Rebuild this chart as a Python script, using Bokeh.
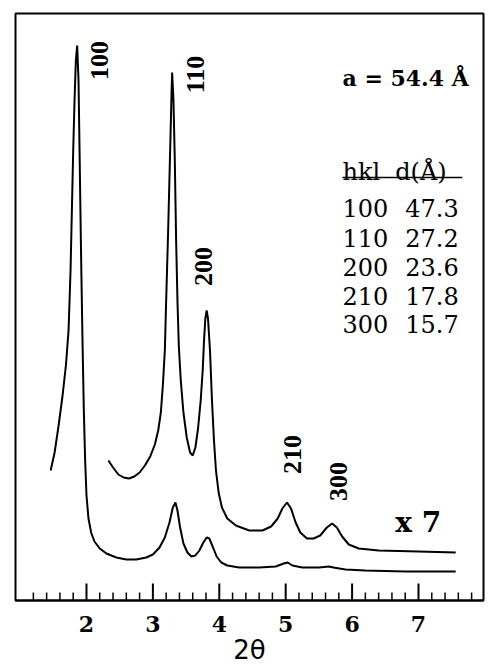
import math
from bokeh.plotting import figure
from bokeh.models import Range1d, FixedTicker
from bokeh.core.properties import value
from bokeh.embed import file_html
from bokeh.resources import INLINE

# ---- data (2theta in degrees, intensity in arbitrary units) ----
two_theta_x1 = [1.46, 1.52, 1.58, 1.64, 1.69, 1.73, 1.76, 1.78, 1.80, 1.82, 1.84, 1.86, 1.88, 1.90,
                1.92, 1.94, 1.96, 1.98, 2.00, 2.03, 2.07, 2.12, 2.20, 2.30, 2.45, 2.60, 2.75, 2.90,
                3.00, 3.10, 3.18, 3.25, 3.30, 3.34, 3.37, 3.41, 3.46, 3.52, 3.58, 3.64, 3.70, 3.76,
                3.81, 3.85, 3.90, 3.96, 4.03, 4.12, 4.30, 4.60, 4.85, 4.97, 5.03, 5.10, 5.25, 5.50,
                5.65, 5.72, 5.90, 6.20, 6.80, 7.56]
intensity_x1 = [130, 148, 175, 205, 235, 270, 330, 390, 450, 500, 540, 555, 520, 430,
                340, 260, 190, 140, 105, 82, 68, 59, 52, 47, 43, 41, 41, 43,
                46, 53, 63, 78, 93, 98, 90, 73, 57, 48, 44, 45, 50, 58,
                63, 62, 54, 44, 38, 35, 33, 33, 34, 37, 38, 35, 33, 33,
                34, 33, 31, 30, 29, 29]

two_theta_x7 = [2.33, 2.40, 2.48, 2.56, 2.64, 2.72, 2.80, 2.88, 2.96, 3.03, 3.08, 3.12, 3.15, 3.18,
                3.20, 3.23, 3.26, 3.28, 3.29, 3.31, 3.33, 3.35, 3.37, 3.39, 3.42, 3.46, 3.51, 3.56,
                3.60, 3.64, 3.68, 3.72, 3.75, 3.77, 3.79, 3.81, 3.83, 3.86, 3.89, 3.92, 3.95, 3.99,
                4.04, 4.12, 4.25, 4.45, 4.65, 4.78, 4.88, 4.95, 5.02, 5.08, 5.15, 5.22, 5.32, 5.42,
                5.52, 5.62, 5.70, 5.77, 5.85, 5.95, 6.10, 6.40, 7.00, 7.56]
intensity_x7 = [140, 133, 126, 123, 122, 124, 128, 135, 144, 156, 170, 188, 215, 250,
                300, 370, 450, 505, 528, 500, 440, 360, 300, 255, 220, 188, 163, 148,
                145, 153, 172, 200, 230, 260, 282, 290, 282, 250, 200, 160, 130, 108,
                93, 82, 75, 70, 70, 74, 82, 92, 98, 92, 78, 68, 62, 62,
                65, 73, 77, 73, 64, 56, 52, 50, 49, 48]

peak_labels = ["100", "110", "200", "210", "300"]
hkl = ["100", "110", "200", "210", "300"]
d_spacing = ["47.3", "27.2", "23.6", "17.8", "15.7"]
lattice_text = "a = 54.4 Å"
scale_text = "x 7"
major_ticks = [2, 3, 4, 5, 6, 7]
minor_ticks = [1.2, 1.4, 1.6, 1.8, 2.2, 2.4, 2.6, 2.8, 3.2, 3.4, 3.6, 3.8, 4.2, 4.4, 4.6, 4.8,
               5.2, 5.4, 5.6, 5.8, 6.2, 6.4, 6.6, 6.8, 7.2, 7.4, 7.6, 7.8]

# ---- annotation layout (data coordinates) ----
label_x = [2.20, 3.64, 3.76, 5.10, 5.80]
label_y = [540, 526, 334, 146, 119]
table_x1, table_x2 = 5.855, 6.80
table_row_y = [393, 363, 334, 305, 277]

p = figure(frame_width=468, frame_height=587, x_range=Range1d(0.931, 7.979), y_range=Range1d(0, 587),
           output_backend="svg", toolbar_location=None, y_axis_location=None,
           min_border_left=15, min_border_right=7, min_border_top=13, min_border_bottom=71)
p.grid.visible = False
p.outline_line_color = "black"
p.outline_line_width = 2
p.background_fill_color = "white"
p.border_fill_color = "white"

ax = p.xaxis[0]
ax.ticker = FixedTicker(ticks=major_ticks, minor_ticks=minor_ticks)
ax.axis_line_width = 2
ax.axis_line_color = "black"
ax.major_tick_in = 0
ax.major_tick_out = 0
ax.minor_tick_in = 0
ax.minor_tick_out = 0
ax.major_label_text_font = "DejaVu Serif"
ax.major_label_text_font_style = "bold"
ax.major_label_text_font_size = "22px"
ax.major_label_text_color = "black"
ax.major_label_standoff = 15
ax.axis_label = "2θ"
ax.axis_label_text_font = "DejaVu Sans"
ax.axis_label_text_font_style = "normal"
ax.axis_label_text_font_size = "26px"
ax.axis_label_text_color = "black"
ax.axis_label_standoff = 0

# inward-pointing ticks on the bottom axis
p.segment(x0=major_ticks, y0=[0] * len(major_ticks), x1=major_ticks, y1=[17] * len(major_ticks),
          line_color="black", line_width=2)
p.segment(x0=minor_ticks, y0=[0] * len(minor_ticks), x1=minor_ticks, y1=[8] * len(minor_ticks),
          line_color="black", line_width=1.5)

p.line(two_theta_x1, intensity_x1, line_color="black", line_width=2)
p.line(two_theta_x7, intensity_x7, line_color="black", line_width=2)

p.text(x=label_x, y=label_y, text=peak_labels, angle=math.pi / 2,
       text_font=value("Liberation Serif"), text_font_style="bold", text_font_size="26px",
       text_align="center", text_baseline="middle", text_color="black")

p.text(x=[table_x1], y=[523], text=[lattice_text], text_font=value("DejaVu Serif"),
       text_font_style="bold", text_font_size="22px", text_align="left",
       text_baseline="alphabetic", text_color="black")

p.text(x=[table_x1, 6.65], y=[429, 429], text=["hkl", "d(Å)"], text_font=value("DejaVu Serif"),
       text_font_size="24px", text_align="left", text_baseline="alphabetic", text_color="black")
p.line([table_x1, 7.66], [423, 423], line_color="black", line_width=1.5)

p.text(x=[table_x1] * 5, y=table_row_y, text=hkl, text_font=value("DejaVu Serif"),
       text_font_size="24px", text_align="left", text_baseline="middle", text_color="black")
p.text(x=[table_x2] * 5, y=table_row_y, text=d_spacing, text_font=value("DejaVu Serif"),
       text_font_size="24px", text_align="left", text_baseline="middle", text_color="black")

p.text(x=[6.65], y=[78], text=[scale_text], text_font=value("DejaVu Serif"),
       text_font_style="bold", text_font_size="28px", text_align="left",
       text_baseline="middle", text_color="black")

open("out.html", "w").write(file_html(p, INLINE))
